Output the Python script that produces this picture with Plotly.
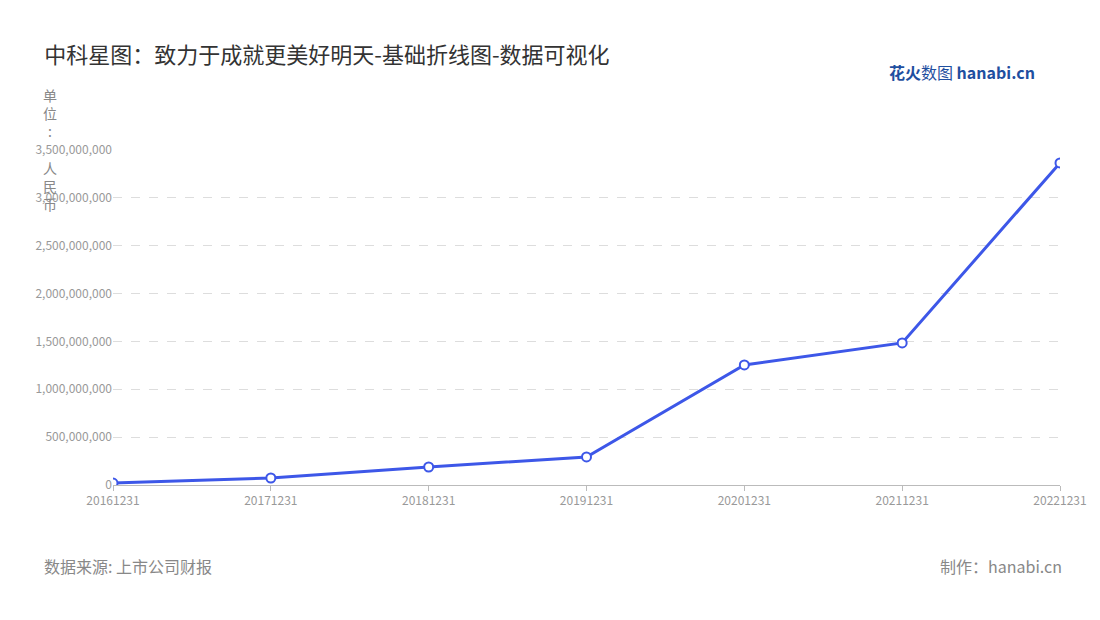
import plotly.graph_objects as go

dates = ["20161231", "20171231", "20181231", "20191231", "20201231", "20211231", "20221231"]
revenue = [20000000, 73000000, 188000000, 293000000, 1254000000, 1484000000, 3365000000]
y_ticks = [0, 500000000, 1000000000, 1500000000, 2000000000, 2500000000, 3000000000, 3500000000]

fig = go.Figure()
fig.add_trace(go.Scatter(
    x=dates, y=revenue, mode="lines+markers",
    line=dict(color="#3d57e8", width=3),
    marker=dict(size=9, color="white", line=dict(color="#3d57e8", width=2)),
    showlegend=False,
))

fig.update_layout(
    width=1100, height=620,
    paper_bgcolor="white", plot_bgcolor="white",
    margin=dict(l=105, r=48, t=142, b=143),
    font=dict(family="Noto Sans CJK SC", color="#999999"),
    title=dict(text="中科星图：致力于成就更美好明天-基础折线图-数据可视化",
               x=0.033, y=0.924, xanchor="left", yanchor="middle",
               font=dict(size=22, color="#333333")),
    xaxis=dict(type="category", range=[0, 6], showgrid=False,
               showline=True, linecolor="#bbbbbb", ticks="outside",
               tickcolor="#bbbbbb", ticklen=5,
               tickfont=dict(size=12, color="#999999")),
    yaxis=dict(range=[0, 3500000000], tickvals=y_ticks, tickformat=",d",
               showgrid=True, gridcolor="#dddddd", griddash="dash",
               zeroline=False, tickfont=dict(size=12, color="#999999")),
)

fig.add_annotation(text="单<br>位<br>:<br> <br>人<br>民<br>币", xref="paper", yref="paper",
                   x=-0.067, y=1.20, xanchor="center", yanchor="top", showarrow=False,
                   font=dict(size=14, color="#888888"), align="center")
fig.add_annotation(text="<b>花火</b>数图 <b>hanabi.cn</b>", xref="paper", yref="paper",
                   x=0.976, y=1.233, xanchor="right", yanchor="middle", showarrow=False,
                   font=dict(size=16, color="#1f4fa0"))
fig.add_annotation(text="数据来源: 上市公司财报", xref="paper", yref="paper",
                   x=-0.0745, y=-0.242, xanchor="left", yanchor="middle", showarrow=False,
                   font=dict(size=16, color="#888888"))
fig.add_annotation(text="制作：hanabi.cn", xref="paper", yref="paper",
                   x=1.004, y=-0.242, xanchor="right", yanchor="middle", showarrow=False,
                   font=dict(size=16, color="#888888"))

fig.write_html("out.html")
